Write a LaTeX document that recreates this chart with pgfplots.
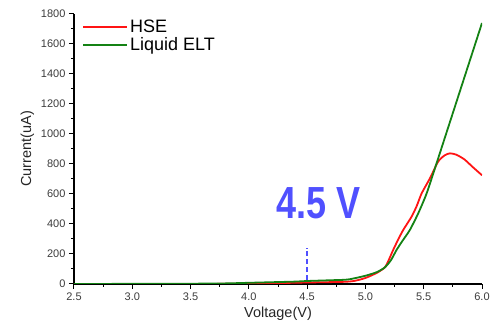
\documentclass[border=0pt]{standalone}
\usepackage{pgfplots}
\pgfplotsset{compat=1.18}
\usepackage{fontspec}
\setmainfont{Liberation Sans}
\definecolor{hsered}{RGB}{255,20,20}
\definecolor{eltgreen}{RGB}{20,130,20}
\definecolor{annblue}{RGB}{80,80,255}
\definecolor{ticktext}{RGB}{60,60,60}
\begin{document}
\begin{tikzpicture}
\begin{axis}[
  at={(0,0)}, anchor=south west,
  scale only axis, width=408pt, height=270pt,
  xmin=2.5, xmax=6.0, ymin=0, ymax=1800,
  axis lines*=left,
  axis line style={line width=1.2pt, black},
  tick align=outside,
  xtick={2.5,3.0,...,6.0},
  minor x tick num=1,
  ytick={0,200,...,1800},
  minor y tick num=1,
  major tick length=5pt, minor tick length=3pt,
  tick style={line width=1pt, black},
  /pgf/number format/assume math mode=true,
  xticklabel style={/pgf/number format/.cd, fixed, fixed zerofill, precision=1, /tikz/.cd, font=\fontsize{11}{12}\selectfont, text=ticktext},
  yticklabel style={/pgf/number format/.cd, set thousands separator={}, /tikz/.cd, font=\fontsize{11}{12}\selectfont, text=ticktext},
  xlabel={Voltage(V)}, ylabel={Current(uA)},
  xlabel style={font=\fontsize{14.5}{16}\selectfont, text=black!85},
  ylabel style={font=\fontsize{14.5}{16}\selectfont, text=black!85},
  legend cell align=left,
  legend style={draw=none, fill=none, at={(0.0196,0.985)}, anchor=north west,
    font=\fontsize{18}{19}\selectfont, row sep=-1pt, inner sep=0pt,
    nodes={inner sep=2pt}},
  legend image code/.code={\draw[#1, line width=2pt] (0pt,0pt) -- (44pt,0pt);},
]
\addplot[hsered, line width=1.8pt, smooth, tension=0.4] coordinates {
(2.5,0) (3.5,0) (4.0,2) (4.2,5) (4.5,10) (4.8,14) (4.9,20) (5.0,40) (5.1,75)
(5.167,111) (5.2,160) (5.238,227) (5.28,295) (5.324,360) (5.396,449) (5.44,520)
(5.482,604) (5.553,704) (5.624,816) (5.68,858) (5.725,871) (5.78,862) (5.85,830)
(5.92,780) (6.0,725)
};
\addlegendentry{HSE}
\addplot[eltgreen, line width=1.8pt, smooth, tension=0.4] coordinates {
(2.5,0) (3.0,1) (3.5,2) (3.8,4) (4.0,8) (4.2,12) (4.4,16) (4.5,20) (4.7,25)
(4.85,30) (5.0,55) (5.1,80) (5.167,111) (5.22,160) (5.267,227) (5.32,290)
(5.381,360) (5.453,471) (5.525,604) (5.61,804) (5.7,1020) (5.8,1260) (5.9,1500)
(6.0,1740)
};
\addlegendentry{Liquid ELT}
\addplot[draw=annblue, line width=1.4pt, dash pattern=on 5pt off 3pt, forget plot] coordinates {(4.5,25) (4.5,240)};
\node[text=annblue, font=\bfseries\fontsize{36}{40}\selectfont] at (axis cs:4.6,540) {\scalebox{1}[1.25]{4.5 V}};
\end{axis}
\useasboundingbox (-74pt,-47pt) rectangle (419pt,284pt);
\end{tikzpicture}
\end{document}
